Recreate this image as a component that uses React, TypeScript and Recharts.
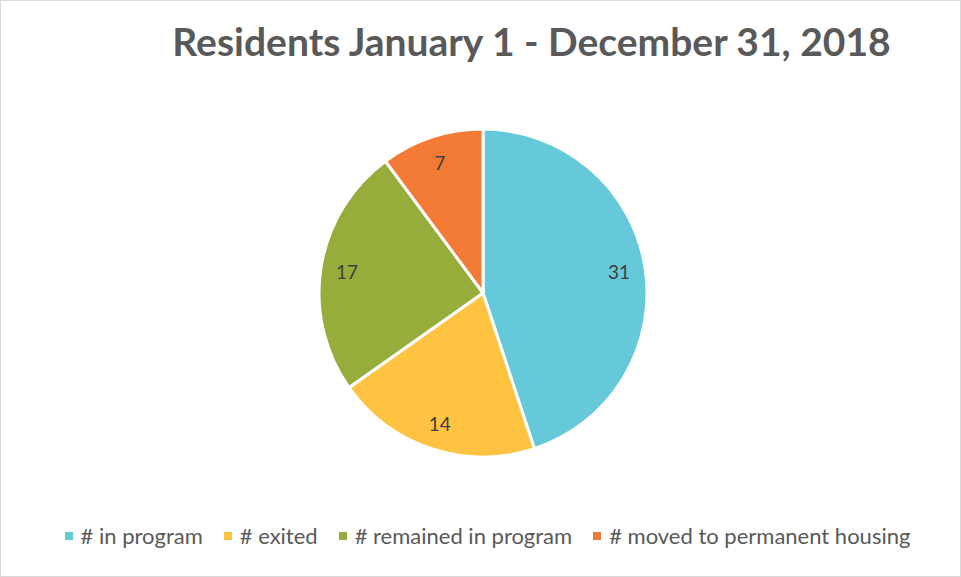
import { PieChart, Pie, Cell, Legend } from "recharts";

const categories = ["# in program", "# exited", "# remained in program", "# moved to permanent housing"];
const values = [31, 14, 17, 7];
const colors = ["#66C9D9", "#FFC342", "#96AD3B", "#F47B36"];

const data = categories.map((name, i) => ({ name, value: values[i] }));

const RAD = Math.PI / 180;

function renderLabel(props: any) {
  const { cx, cy, midAngle, outerRadius, value } = props;
  const r = outerRadius * 0.84;
  const x = cx + r * Math.cos(-midAngle * RAD);
  const y = cy + r * Math.sin(-midAngle * RAD);
  return (
    <text x={x} y={y} fill="#404040" fontSize={19} fontFamily="Lato" textAnchor="middle" dominantBaseline="central">
      {value}
    </text>
  );
}

function LegendContent() {
  return (
    <div style={{ display: "flex", justifyContent: "center", paddingLeft: 14, fontFamily: "Lato", fontSize: 22, color: "#595959" }}>
      {categories.map((c, i) => (
        <div key={c} style={{ display: "flex", alignItems: "center", marginRight: i < 3 ? 21 : 0 }}>
          <span style={{ width: 8, height: 8, background: colors[i], marginRight: 8, display: "inline-block" }} />
          <span>{c}</span>
        </div>
      ))}
    </div>
  );
}

export default function App() {
  return (
    <div
      style={{
        position: "absolute",
        left: 0,
        top: 0,
        width: 961,
        height: 577,
        background: "#fff",
        boxSizing: "border-box",
        border: "1px solid #D9D9D9",
      }}
    >
      <div
        style={{
          position: "absolute",
          left: 0,
          width: 961,
          top: 17,
          textAlign: "center",
          paddingLeft: 100,
          boxSizing: "border-box",
          fontFamily: "Lato",
          fontWeight: 700,
          fontSize: 39,
          color: "#595959",
        }}
      >
        Residents January 1 - December 31, 2018
      </div>
      <PieChart width={959} height={575} style={{ position: "absolute", left: 0, top: 0 }}>
        <Pie
          data={data}
          dataKey="value"
          nameKey="name"
          cx={477}
          cy={287}
          outerRadius={164}
          startAngle={90}
          endAngle={-270}
          stroke="#fff"
          strokeWidth={3}
          label={renderLabel}
          labelLine={false}
          isAnimationActive={false}
        >
          {data.map((d, i) => (
            <Cell key={d.name} fill={colors[i]} />
          ))}
        </Pie>
        <Legend content={<LegendContent />} verticalAlign="bottom" wrapperStyle={{ bottom: 27 }} />
      </PieChart>
    </div>
  );
}
